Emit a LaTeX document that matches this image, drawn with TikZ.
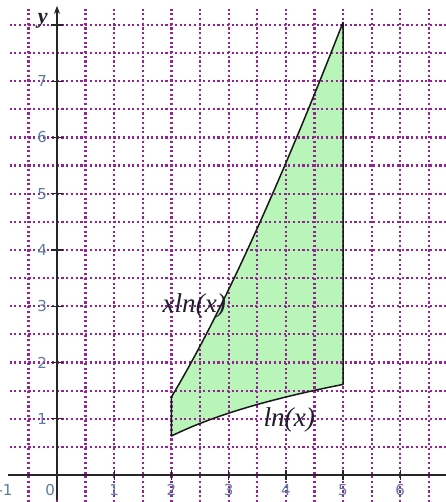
\documentclass[tikz,border=0pt]{standalone}
\usepackage{fontspec}
\usetikzlibrary{arrows.meta}
\setmainfont{Liberation Serif}
\setsansfont{DejaVu Sans}
\definecolor{gridpurple}{RGB}{150,35,150}
\definecolor{regiongreen}{RGB}{185,245,185}
\definecolor{ticktext}{RGB}{95,125,160}
\definecolor{labeltext}{RGB}{30,30,45}
\tikzset{
  griddot/.style={gridpurple, line width=1.1pt, dash pattern=on 1.05pt off 1.3pt},
  axisline/.style={black!85, line width=0.85pt},
  tickmark/.style={black!85, line width=0.7pt},
  ticklabel/.style={font=\sffamily\fontsize{7.5}{8}\selectfont, text=ticktext, inner sep=0pt},
  curvelabel/.style={font=\itshape\fontsize{13.5}{15}\selectfont, text=labeltext, inner sep=0pt},
  region/.style={fill=regiongreen},
  boundary/.style={black!90, line width=0.75pt, line join=round}
}
\begin{document}
\begin{tikzpicture}[x=1cm,y=0.9834cm]
\useasboundingbox (-0.9965,-0.48) rectangle (6.80,8.444);
% region
\fill[region] plot[domain=2:5,samples=40] (\x,{\x*ln(\x)}) -- plot[domain=5:2,samples=40] (\x,{ln(\x)}) -- cycle;
% grid
\foreach \i in {-0.5,0,...,6.5} \draw[griddot] (\i,-0.48) -- (\i,8.32);
\foreach \j in {0,0.5,...,8} \draw[griddot] (-0.83,\j) -- (6.80,\j);
% boundary
\draw[boundary] plot[domain=2:5,samples=40] (\x,{\x*ln(\x)}) -- plot[domain=5:2,samples=40] (\x,{ln(\x)}) -- cycle;
% axes
\coordinate (xs) at (-0.85,0);
\coordinate (xe) at (6.80,0);
\coordinate (ys) at (0,-0.45);
\coordinate (ye) at (0,8.34);
\draw[axisline] (xs) -- (xe);
\draw[axisline,-{Stealth[length=4pt,width=3pt]}] (ys) -- (ye);
% ticks
\foreach \i in {1,...,6} \draw[tickmark] (\i,-0.09) -- (\i,0.09);
\foreach \j in {1,...,8} \draw[tickmark] (-0.1,\j) -- (0.1,\j);
% tick labels
\node[ticklabel] (x0) at (-0.12,-0.27) {0};
\foreach \i in {1,...,6} \node[ticklabel] (x\i) at (\i,-0.27) {\i};
\node[ticklabel,anchor=east] (xm1) at (-0.77,-0.27) {-1};
\foreach \j in {1,...,7} \node[ticklabel] (y\j) at (-0.26,\j) {\j};
\node[font=\bfseries\itshape\fontsize{11}{12}\selectfont, text=labeltext, inner sep=0pt] (ylab) at (-0.25,8.07) {y};
% curve labels
\node[curvelabel] (lab1) at (2.40,3.0) {xln(x)};
\node[curvelabel] (lab2) at (4.06,0.98) {ln(x)};
\end{tikzpicture}
\end{document}
